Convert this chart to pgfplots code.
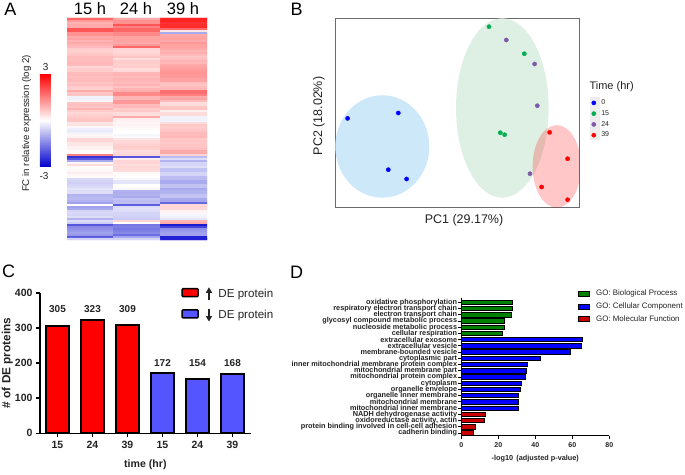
\documentclass[border=0pt]{standalone}
\usepackage{fontspec}
\setmainfont{Liberation Sans}
\usepackage{pgfplots}
\pgfplotsset{compat=1.18}
\usetikzlibrary{arrows.meta}
\newcommand{\fs}[1]{\fontsize{#1}{#1}\selectfont}
\definecolor{txt}{RGB}{35,35,35}
\definecolor{barblue}{RGB}{85,85,255}
\definecolor{gogreen}{RGB}{0,128,0}
\definecolor{goblue}{RGB}{0,0,255}
\definecolor{gored}{RGB}{200,0,0}
\definecolor{ptgreen}{RGB}{0,176,80}
\definecolor{ptpurple}{RGB}{128,90,170}
\pgfplotsset{
  colormap={bwr}{rgb255(0cm)=(0,0,205); rgb255(1cm)=(255,255,255); rgb255(2cm)=(255,0,0)},
}
\begin{document}
\begin{tikzpicture}[x=1pt,y=1pt]
\path[use as bounding box] (0,0) rectangle (685,474);

% panel letters
\node[font=\fs{18},anchor=center] at (10.5,464.5) {A};
\node[font=\fs{18},anchor=center] at (296.5,465) {B};
\node[font=\fs{18},anchor=center] at (8.5,202.5) {C};
\node[font=\fs{18},anchor=center] at (296.5,202) {D};

% A: heatmap
\node[font=\fs{16.5}] at (90,465) {15 h};
\node[font=\fs{16.5}] at (136,465) {24 h};
\node[font=\fs{16.5}] at (183,465) {39 h};
\node[font=\fs{10},text=txt] at (45.7,407.3) {3};
\node[font=\fs{10},text=txt] at (44,298.3) {-3};
\node[font=\fs{9.7},text=txt,rotate=90] at (26.7,350.5) {FC in relative expression (log 2)};
\begin{axis}[
  at={(67pt,234pt)},anchor=south west,scale only axis,
  width=140pt,height=222pt,
  xmin=-0.5,xmax=2.5,ymin=17,ymax=239,y dir=reverse,
  xtick=\empty,ytick=\empty,axis line style={draw=none},
  colormap name=bwr,point meta min=-3,point meta max=3,
  colorbar,
  colorbar style={at={(-0.193,0.748)},anchor=north west,width=11pt,height=93pt,
    xtick=\empty,ytick=\empty,axis line style={draw=none}},
]
\addplot[matrix plot*,mesh/cols=3,point meta=explicit] coordinates {
(0,18)[1.8] (1,18)[1.0] (2,18)[2.6]
(0,20)[1.2] (1,20)[1.3] (2,20)[2.6]
(0,22)[0.9] (1,22)[1.3] (2,22)[2.4]
(0,24)[1.0] (1,24)[2.0] (2,24)[2.5]
(0,26)[1.0] (1,26)[1.5] (2,26)[2.5]
(0,28)[2.0] (1,28)[1.8] (2,28)[1.8]
(0,30)[2.0] (1,30)[1.8] (2,30)[0.3]
(0,32)[1.3] (1,32)[1.4] (2,32)[-1.0]
(0,34)[1.3] (1,34)[1.4] (2,34)[1.0]
(0,36)[1.0] (1,36)[1.1] (2,36)[1.1]
(0,38)[1.1] (1,38)[1.1] (2,38)[1.1]
(0,40)[0.9] (1,40)[1.1] (2,40)[1.0]
(0,42)[1.0] (1,42)[1.0] (2,42)[1.2]
(0,44)[0.9] (1,44)[1.2] (2,44)[1.1]
(0,46)[0.8] (1,46)[1.8] (2,46)[1.1]
(0,48)[0.6] (1,48)[0.5] (2,48)[1.0]
(0,50)[0.55] (1,50)[0.45] (2,50)[0.9]
(0,52)[0.6] (1,52)[0.5] (2,52)[0.95]
(0,54)[0.7] (1,54)[0.55] (2,54)[0.8]
(0,56)[0.8] (1,56)[0.7] (2,56)[0.7]
(0,58)[0.75] (1,58)[0.4] (2,58)[0.75]
(0,60)[0.8] (1,60)[0.6] (2,60)[0.9]
(0,62)[0.85] (1,62)[0.6] (2,62)[0.85]
(0,64)[0.8] (1,64)[0.55] (2,64)[1.0]
(0,66)[0.5] (1,66)[0.6] (2,66)[1.1]
(0,68)[0.6] (1,68)[0.4] (2,68)[1.15]
(0,70)[0.6] (1,70)[0.45] (2,70)[1.2]
(0,72)[0.8] (1,72)[0.85] (2,72)[1.25]
(0,74)[0.8] (1,74)[0.9] (2,74)[1.2]
(0,76)[0.75] (1,76)[0.8] (2,76)[1.2]
(0,78)[0.8] (1,78)[0.9] (2,78)[1.1]
(0,80)[0.8] (1,80)[0.85] (2,80)[1.1]
(0,82)[0.7] (1,82)[0.8] (2,82)[0.75]
(0,84)[0.75] (1,84)[0.9] (2,84)[0.7]
(0,86)[0.6] (1,86)[0.7] (2,86)[0.8]
(0,88)[0.55] (1,88)[0.9] (2,88)[0.85]
(0,90)[1.0] (1,90)[0.95] (2,90)[1.7]
(0,92)[0.7] (1,92)[1.4] (2,92)[1.7]
(0,94)[0.7] (1,94)[1.4] (2,94)[1.5]
(0,96)[-0.15] (1,96)[0.9] (2,96)[1.0]
(0,98)[-0.2] (1,98)[0.85] (2,98)[1.1]
(0,100)[0.1] (1,100)[1.2] (2,100)[0.8]
(0,102)[0.7] (1,102)[1.2] (2,102)[0.4]
(0,104)[0.75] (1,104)[0.8] (2,104)[0.4]
(0,106)[0.7] (1,106)[0.85] (2,106)[0.7]
(0,108)[0.9] (1,108)[0.6] (2,108)[0.7]
(0,110)[0.6] (1,110)[0.65] (2,110)[0.2]
(0,112)[0.5] (1,112)[0.4] (2,112)[0.4]
(0,114)[0.55] (1,114)[0.4] (2,114)[0.4]
(0,116)[0.6] (1,116)[1.0] (2,116)[-0.15]
(0,118)[0.7] (1,118)[0.2] (2,118)[-0.15]
(0,120)[0.7] (1,120)[0.15] (2,120)[-0.15]
(0,122)[0.3] (1,122)[0.1] (2,122)[0.4]
(0,124)[0.35] (1,124)[0.15] (2,124)[0.65]
(0,126)[0.1] (1,126)[0.1] (2,126)[0.6]
(0,128)[-0.2] (1,128)[0.05] (2,128)[0.65]
(0,130)[-0.25] (1,130)[0.0] (2,130)[0.7]
(0,132)[-0.15] (1,132)[0.0] (2,132)[0.8]
(0,134)[0.1] (1,134)[-0.1] (2,134)[0.8]
(0,136)[0.15] (1,136)[-0.05] (2,136)[0.85]
(0,138)[0.5] (1,138)[0.3] (2,138)[0.65]
(0,140)[0.5] (1,140)[0.45] (2,140)[0.7]
(0,142)[0.3] (1,142)[0.5] (2,142)[0.65]
(0,144)[0.3] (1,144)[0.55] (2,144)[0.7]
(0,146)[0.15] (1,146)[0.6] (2,146)[0.7]
(0,148)[0.15] (1,148)[0.55] (2,148)[0.75]
(0,150)[0.05] (1,150)[0.4] (2,150)[1.0]
(0,152)[0.05] (1,152)[0.45] (2,152)[1.0]
(0,154)[1.5] (1,154)[0.5] (2,154)[0.5]
(0,156)[-2.4] (1,156)[-2.0] (2,156)[-0.8]
(0,158)[-2.0] (1,158)[0.2] (2,158)[-0.4]
(0,160)[-1.0] (1,160)[0.5] (2,160)[-0.9]
(0,162)[0.1] (1,162)[0.5] (2,162)[-0.5]
(0,164)[0.4] (1,164)[0.4] (2,164)[-0.5]
(0,166)[0.05] (1,166)[0.5] (2,166)[-0.4]
(0,168)[0.05] (1,168)[0.45] (2,168)[-0.7]
(0,170)[0.1] (1,170)[0.4] (2,170)[-0.7]
(0,172)[0.2] (1,172)[0.05] (2,172)[-0.5]
(0,174)[0.1] (1,174)[0.05] (2,174)[-0.5]
(0,176)[0.05] (1,176)[0.0] (2,176)[-0.8]
(0,178)[-0.45] (1,178)[-0.1] (2,178)[-0.8]
(0,180)[-0.5] (1,180)[-0.3] (2,180)[-1.0]
(0,182)[-0.55] (1,182)[-0.3] (2,182)[-1.0]
(0,184)[-0.5] (1,184)[0.0] (2,184)[-0.7]
(0,186)[-0.45] (1,186)[0.0] (2,186)[-0.7]
(0,188)[-0.3] (1,188)[-0.1] (2,188)[-1.0]
(0,190)[-0.4] (1,190)[-0.9] (2,190)[-0.9]
(0,192)[-0.4] (1,192)[-0.95] (2,192)[-0.9]
(0,194)[-0.9] (1,194)[-0.9] (2,194)[-0.7]
(0,196)[-0.85] (1,196)[-1.0] (2,196)[-0.7]
(0,198)[-0.8] (1,198)[-0.7] (2,198)[-1.0]
(0,200)[-0.9] (1,200)[-0.8] (2,200)[-1.05]
(0,202)[-1.1] (1,202)[-0.75] (2,202)[-1.8]
(0,204)[0.0] (1,204)[-1.9] (2,204)[0.45]
(0,206)[-1.1] (1,206)[-0.4] (2,206)[0.5]
(0,208)[-1.0] (1,208)[-0.35] (2,208)[0.45]
(0,210)[-0.5] (1,210)[-0.4] (2,210)[0.15]
(0,212)[-0.45] (1,212)[-0.5] (2,212)[0.1]
(0,214)[-0.5] (1,214)[-0.5] (2,214)[-0.1]
(0,216)[-0.4] (1,216)[-0.55] (2,216)[-0.15]
(0,218)[-0.9] (1,218)[-0.6] (2,218)[-0.3]
(0,220)[-0.4] (1,220)[0.5] (2,220)[0.9]
(0,222)[-0.6] (1,222)[0.0] (2,222)[1.0]
(0,224)[-2.0] (1,224)[-1.6] (2,224)[-2.7]
(0,226)[-1.4] (1,226)[-1.5] (2,226)[-2.2]
(0,228)[-1.3] (1,228)[-1.6] (2,228)[-1.3]
(0,230)[-1.2] (1,230)[-1.5] (2,230)[-1.2]
(0,232)[-1.1] (1,232)[-1.4] (2,232)[-1.1]
(0,234)[-1.2] (1,234)[-1.7] (2,234)[-1.1]
(0,236)[-2.0] (1,236)[-1.1] (2,236)[-2.6]
(0,238)[-0.5] (1,238)[-0.5] (2,238)[-2.6]
};
\end{axis}

% B: PCA
\fill[black!7] (590,334) rectangle (600,377);
\node[font=\fs{12.5},text=txt] at (464,254) {PC1 (29.17\%)};
\node[font=\fs{12.5},text=txt,rotate=90] at (319,358) {PC2 (18.02\%)};
\node[font=\fs{11},text=txt,anchor=west] at (586,387) {Time (hr)};
\begin{axis}[
  at={(335.3pt,266.3pt)},anchor=south west,scale only axis,
  width=244pt,height=189.4pt,
  xmin=0,xmax=244,ymin=0,ymax=189.4,
  xtick=\empty,ytick=\empty,
  axis line style={draw=black!58,line width=1pt},
  legend cell align=left,
  legend style={at={(1.05,0.576)},anchor=north west,draw=none,fill=none,
    font=\fs{7},text=txt,row sep=2.6pt,inner sep=0pt,
    nodes={inner sep=0.9pt},
    /tikz/every odd column/.append style={column sep=4.5pt}},
  legend image post style={mark size=2.1pt},
]
\fill[fill={rgb,255:red,222;green,240;blue,228}] (axis cs:167,99.7) ellipse [x radius=46.3,y radius=89.7];
\fill[fill={rgb,255:red,205;green,232;blue,248}] (axis cs:47,61.2) ellipse [x radius=47,y radius=51.2];
\fill[red,fill opacity=0.22] (axis cs:221.5,41.3) ellipse [x radius=24.2,y radius=41.3];
\addplot[only marks,mark=*,mark size=2.1pt,color=blue] coordinates {(12.3,89.3) (63,94.7) (53,38) (71.3,28.7)};
\addplot[only marks,mark=*,mark size=2.1pt,color=ptgreen] coordinates {(153.7,181) (189,154) (165,75) (169.3,73)};
\addplot[only marks,mark=*,mark size=2.1pt,color=ptpurple] coordinates {(171,167.7) (199.3,143.7) (202,102) (194.7,34)};
\addplot[only marks,mark=*,mark size=2.1pt,color=red] coordinates {(214.3,75.3) (232.3,49) (206.3,20.7) (232.3,8)};
\legend{0,15,24,39}
\end{axis}

% C: bars
\begin{axis}[
  at={(40pt,40.7pt)},anchor=south west,scale only axis,
  width=210.7pt,height=140.6pt,
  xmin=-0.5,xmax=5.52,ymin=0,ymax=400,
  axis lines=left,axis line style={-,line width=1.6pt},
  tick style={black,line width=1.6pt},tick align=outside,major tick length=4pt,
  xtick={0,1,2,3,4,5},xticklabels={15,24,39,15,24,39},
  ytick={0,100,200,300,400},
  /pgf/number format/assume math mode=true,
  tick label style={font=\fs{10.5}\bfseries,text=txt},
  xlabel={time (hr)},ylabel={\# of DE proteins},
  xlabel style={font=\fs{10.6}\bfseries,text=txt,at={(0.5,-0.225)},anchor=center},
  ylabel style={font=\fs{11.8}\bfseries,text=txt,at={(-0.155,0.5)},anchor=center,rotate=0},
  legend cell align=left,
  legend style={at={(0.67,1.06)},anchor=north west,draw=none,fill=none,
    font=\fs{11.6},text=txt,row sep=5pt,inner sep=0pt},
  legend image code/.code={\draw[#1,line width=1.6pt,rounded corners=1pt] (0,-4pt) rectangle (16pt,4pt);},
]
\addplot[ybar,bar width=23pt,bar shift=0pt,draw=black,line width=1.9pt,fill=red] coordinates {(0,305) (1,323) (2,309)};
\addplot[ybar,bar width=23pt,bar shift=0pt,draw=black,line width=1.9pt,fill=barblue] coordinates {(3,172) (4,154) (5,168)};
\addlegendentry{\hspace{5pt}\tikz[baseline=-3.5pt]\draw[-{Triangle[length=5.5pt,width=6pt]},line width=1.6pt] (0,-6.5pt)--(0,6.5pt);\hspace{6.5pt}DE protein}
\addlegendentry{\hspace{5pt}\tikz[baseline=-3.5pt]\draw[-{Triangle[length=5.5pt,width=6pt]},line width=1.6pt] (0,6.5pt)--(0,-6.5pt);\hspace{6.5pt}DE protein}
\node[font=\fs{10}\bfseries,text=txt] at (axis cs:0,353) {305};
\node[font=\fs{10}\bfseries,text=txt] at (axis cs:1,353) {323};
\node[font=\fs{10}\bfseries,text=txt] at (axis cs:2,353) {309};
\node[font=\fs{10}\bfseries,text=txt] at (axis cs:3,201) {172};
\node[font=\fs{10}\bfseries,text=txt] at (axis cs:4,201) {154};
\node[font=\fs{10}\bfseries,text=txt] at (axis cs:5,201) {168};
\end{axis}

% D: GO terms
\begin{axis}[
  at={(461.3pt,38.3pt)},anchor=south west,scale only axis,
  width=148pt,height=137.4pt,
  xmin=0,xmax=80,ymin=-0.434,ymax=21.64,
  axis lines=left,axis line style={-,line width=0.8pt},
  tick style={black,line width=0.8pt},tick align=outside,major tick length=3pt,
  xtick={0,20,40,60,80},
  ytick={0,1,...,21},
  yticklabels={cadherin binding,protein binding involved in cell-cell adhesion,{oxidoreductase activity, actin},NADH dehydrogenase activity,mitochondrial inner membrane,mitochondrial membrane,organelle inner membrane,organelle envelope,cytoplasm,mitochondrial protein complex,mitochondrial membrane part,inner mitochondrial membrane protein complex,cytoplasmic part,membrane-bounded vesicle,extracellular vesicle,extracellular exosome,cellular respiration,nucleoside metabolic process,glycosyl compound metabolic process,electron transport chain,respiratory electron transport chain,oxidative phosphorylation},
  /pgf/number format/assume math mode=true,
  tick label style={font=\fs{7}\bfseries,text=txt},
  yticklabel style={font=\fs{7.3}\bfseries,text=txt,inner sep=1pt},
  xlabel={-log10 \,(adjusted p-value)},
  xlabel style={font=\fs{7.3}\bfseries,text=txt,at={(0.5,-0.165)},anchor=center},
  legend cell align=left,
  legend style={at={(0.79,1.075)},anchor=north west,draw=none,fill=none,
    font=\fs{7.9},text=txt,row sep=1.4pt,inner sep=0pt,
    /tikz/every odd column/.append style={column sep=4pt}},
  legend image code/.code={\draw[#1,line width=0.8pt] (0,-2.5pt) rectangle (11pt,2.5pt);},
]
\addplot[xbar,bar width=4.4pt,bar shift=0pt,draw=black,line width=0.8pt,fill=gogreen] coordinates {(22.2,16) (23.1,17) (23.4,18) (27.2,19) (27.6,20) (27.7,21)};
\addplot[xbar,bar width=4.4pt,bar shift=0pt,draw=black,line width=0.8pt,fill=goblue] coordinates {(30.6,4) (30.7,5) (30.8,6) (31.7,7) (32.6,8) (34.4,9) (35,10) (35.9,11) (42.7,12) (59.1,13) (64.9,14) (65.2,15)};
\addplot[xbar,bar width=4.4pt,bar shift=0pt,draw=black,line width=0.8pt,fill=gored] coordinates {(6.8,0) (7.4,1) (12.6,2) (13.2,3)};
\legend{GO: Biological Process,GO: Cellular Component,GO: Molecular Function}
\end{axis}
\end{tikzpicture}
\end{document}
